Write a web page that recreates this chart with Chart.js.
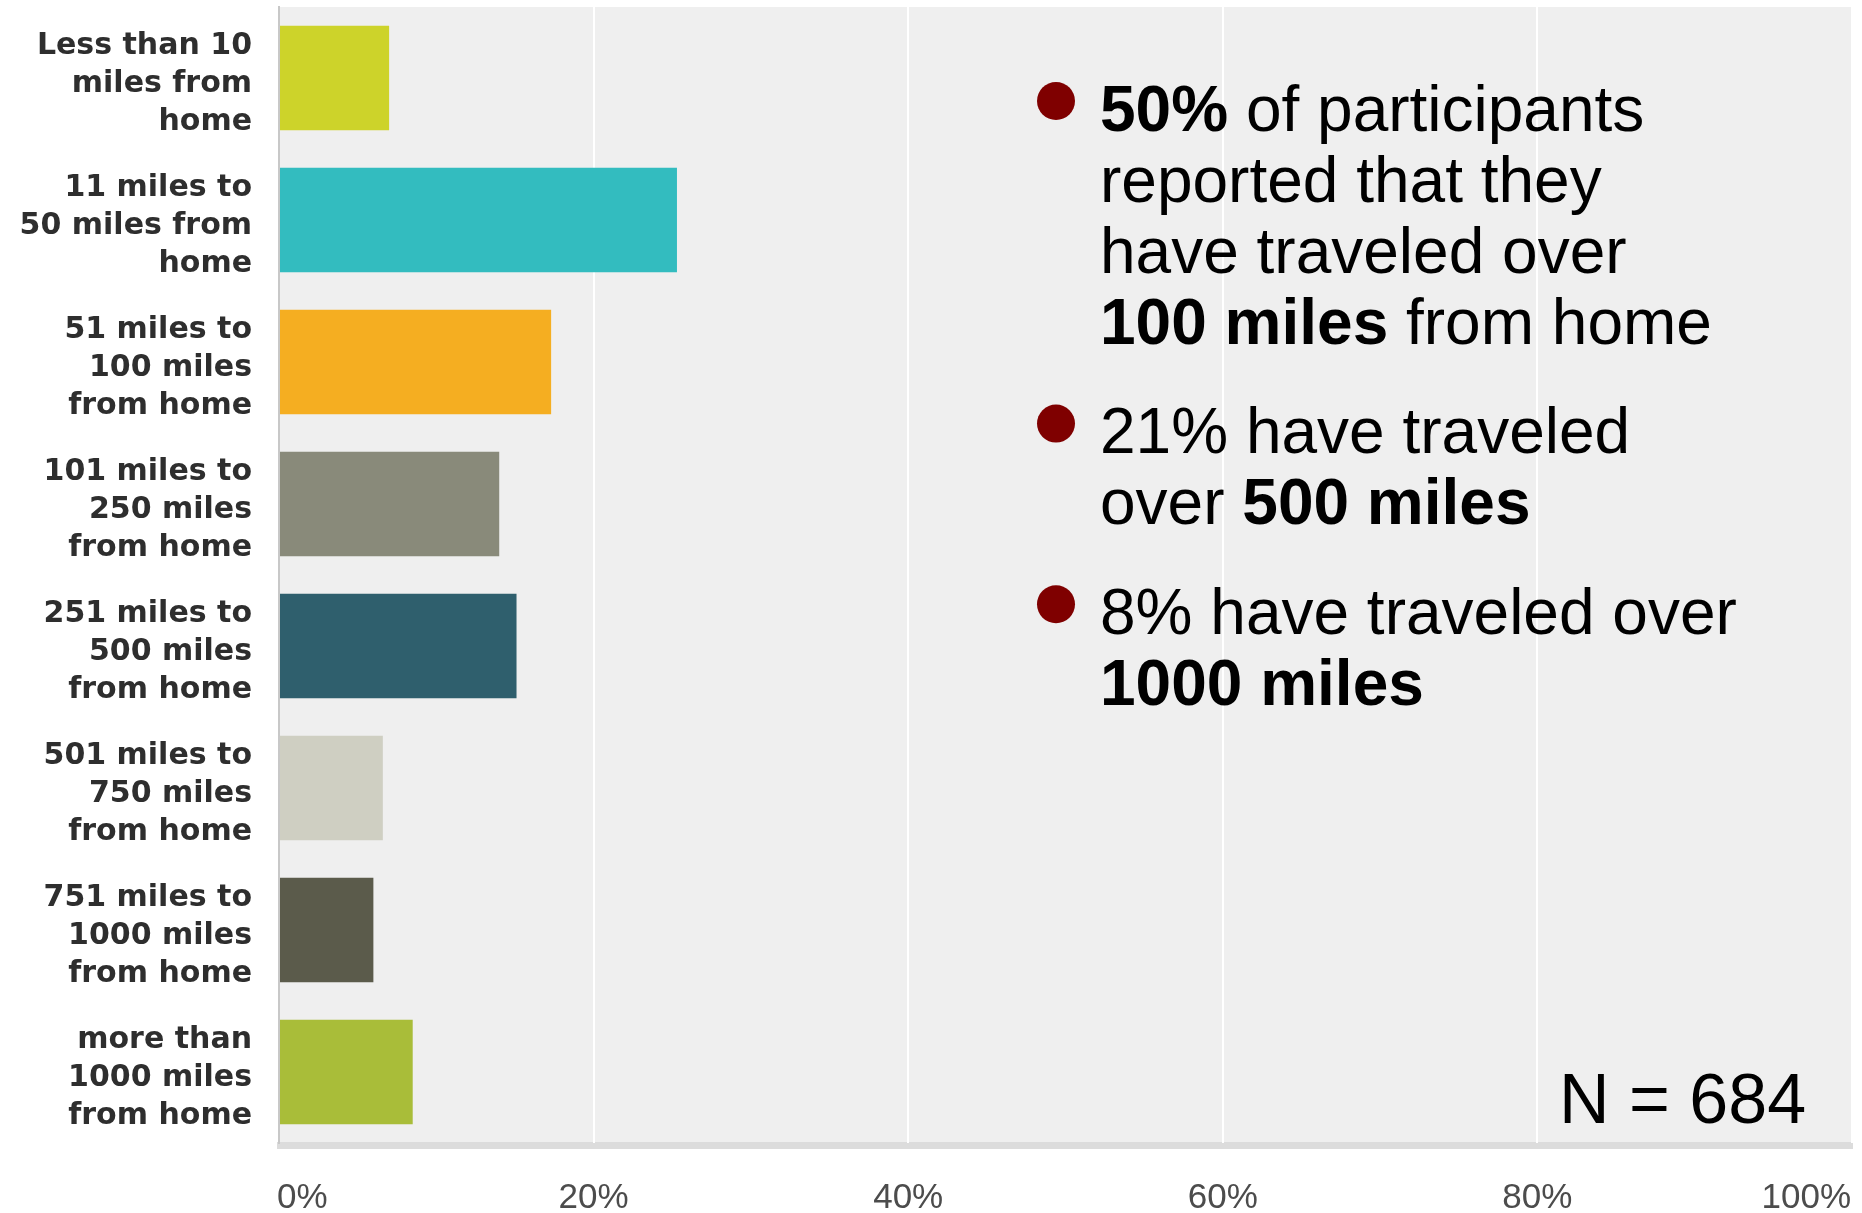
<!DOCTYPE html>
<html>
<head>
<meta charset="utf-8">
<title>Distance traveled from home</title>
<script src="https://cdn.jsdelivr.net/npm/chart.js@4"></script>
<style>
    body { margin: 0; background: #ffffff; }
    #distanceChart { display: block; }
</style>
</head>
<body>
<canvas id="distanceChart" width="1862" height="1213"></canvas>
<script>
// Survey answers: how far participants have traveled from home
const categories = [
    ['Less than 10', 'miles from', 'home'],
    ['11 miles to', '50 miles from', 'home'],
    ['51 miles to', '100 miles', 'from home'],
    ['101 miles to', '250 miles', 'from home'],
    ['251 miles to', '500 miles', 'from home'],
    ['501 miles to', '750 miles', 'from home'],
    ['751 miles to', '1000 miles', 'from home'],
    ['more than', '1000 miles', 'from home']
];
const percentages = [7.0, 25.3, 17.3, 14.0, 15.1, 6.6, 6.0, 8.5];
const barColors = ['#cdd32a', '#33bcbf', '#f5ae21', '#898a7a', '#2f5f6d', '#cfcfc2', '#5b5b4b', '#a9bd39'];
const tickValues = [0, 20, 40, 60, 80, 100];
const tickLabels = ['0%', '20%', '40%', '60%', '80%', '100%'];

// Notes shown on the right, each line is a list of [text, bold] pieces
const noteGroups = [
    [
        [['50%', true], [' of participants', false]],
        [['reported that they', false]],
        [['have traveled over', false]],
        [['100 miles', true], [' from home', false]]
    ],
    [
        [['21% have traveled', false]],
        [['over ', false], ['500 miles', true]]
    ],
    [
        [['8% have traveled over', false]],
        [['1000 miles', true]]
    ]
];
const sampleSize = 'N = 684';

const plotBackground = {
    id: 'plotBackground',
    beforeDraw(chart) {
        const { ctx, chartArea } = chart;
        ctx.save();
        ctx.fillStyle = '#efefef';
        ctx.fillRect(chartArea.left, chartArea.top, chartArea.right - chartArea.left, chartArea.bottom - chartArea.top);
        // thick gray base under the bars
        ctx.fillStyle = '#dcdcdc';
        ctx.fillRect(chartArea.left - 2, chartArea.bottom - 1, chartArea.right - chartArea.left + 3, 7);
        ctx.restore();
    }
};

// x labels: first one left-aligned, last one right-aligned so they stay inside the plot
const percentLabels = {
    id: 'percentLabels',
    afterDraw(chart) {
        const { ctx } = chart;
        const xScale = chart.scales.x;
        ctx.save();
        ctx.font = '35px "Liberation Sans", Arial, sans-serif';
        ctx.fillStyle = '#4c4c4c';
        ctx.textBaseline = 'middle';
        tickValues.forEach((v, i) => {
            const x = xScale.getPixelForValue(v);
            if (i === 0) {
                ctx.textAlign = 'left';
                ctx.fillText(tickLabels[i], x - 2, 1198);
            } else if (i === tickValues.length - 1) {
                ctx.textAlign = 'right';
                ctx.fillText(tickLabels[i], x - 1, 1198);
            } else {
                ctx.textAlign = 'center';
                ctx.fillText(tickLabels[i], x, 1198);
            }
        });
        ctx.restore();
    }
};

const notes = {
    id: 'notes',
    afterDraw(chart) {
        const { ctx } = chart;
        const textX = 1100;
        const lineHeight = 71;
        const groupGap = 38.6;
        let baseline = 130.6;
        ctx.save();
        ctx.textAlign = 'left';
        ctx.textBaseline = 'alphabetic';
        noteGroups.forEach(group => {
            // bullet
            ctx.fillStyle = '#7f0000';
            ctx.beginPath();
            ctx.arc(1056, baseline - 29.6, 19, 0, Math.PI * 2);
            ctx.fill();

            ctx.fillStyle = '#000000';
            group.forEach(line => {
                let x = textX;
                line.forEach(([text, bold]) => {
                    ctx.font = (bold ? 'bold ' : '') + '64px "Liberation Sans", Arial, sans-serif';
                    ctx.fillText(text, x, baseline);
                    x += ctx.measureText(text).width;
                });
                baseline += lineHeight;
            });
            baseline += groupGap;
        });

        ctx.font = '70px "Liberation Sans", Arial, sans-serif';
        ctx.fillText(sampleSize, 1559, 1123);
        ctx.restore();
    }
};

new Chart(document.getElementById('distanceChart'), {
    type: 'bar',
    data: {
        labels: categories,
        datasets: [{
            data: percentages,
            backgroundColor: barColors,
            borderWidth: 0,
            barPercentage: 0.736,
            categoryPercentage: 1
        }]
    },
    options: {
        indexAxis: 'y',
        responsive: false,
        animation: false,
        devicePixelRatio: 1,
        layout: {
            padding: { top: 7, right: 10, bottom: 70, left: 0 }
        },
        scales: {
            x: {
                min: 0,
                max: 100,
                ticks: { display: false, stepSize: 20 },
                grid: { color: '#ffffff', lineWidth: 2, drawTicks: false },
                border: { display: false },
                afterFit(scale) {
                    scale.height = 0;
                    scale.paddingLeft = 0;
                    scale.paddingRight = 0;
                }
            },
            y: {
                ticks: {
                    color: '#2e2e2e',
                    padding: 27,
                    labelOffset: 6,
                    font: { family: '"DejaVu Sans", sans-serif', size: 30, weight: 'bold', lineHeight: 1.267 }
                },
                grid: { display: false, drawTicks: false },
                border: { display: true, color: '#c8c8c8', width: 2 },
                afterFit(scale) {
                    scale.width = 279;
                    // the label stacks fit inside their rows, no extra room needed above or below
                    scale.paddingTop = 0;
                    scale.paddingBottom = 0;
                }
            }
        },
        plugins: {
            legend: { display: false },
            tooltip: { enabled: false }
        }
    },
    plugins: [plotBackground, percentLabels, notes]
});
</script>
</body>
</html>
